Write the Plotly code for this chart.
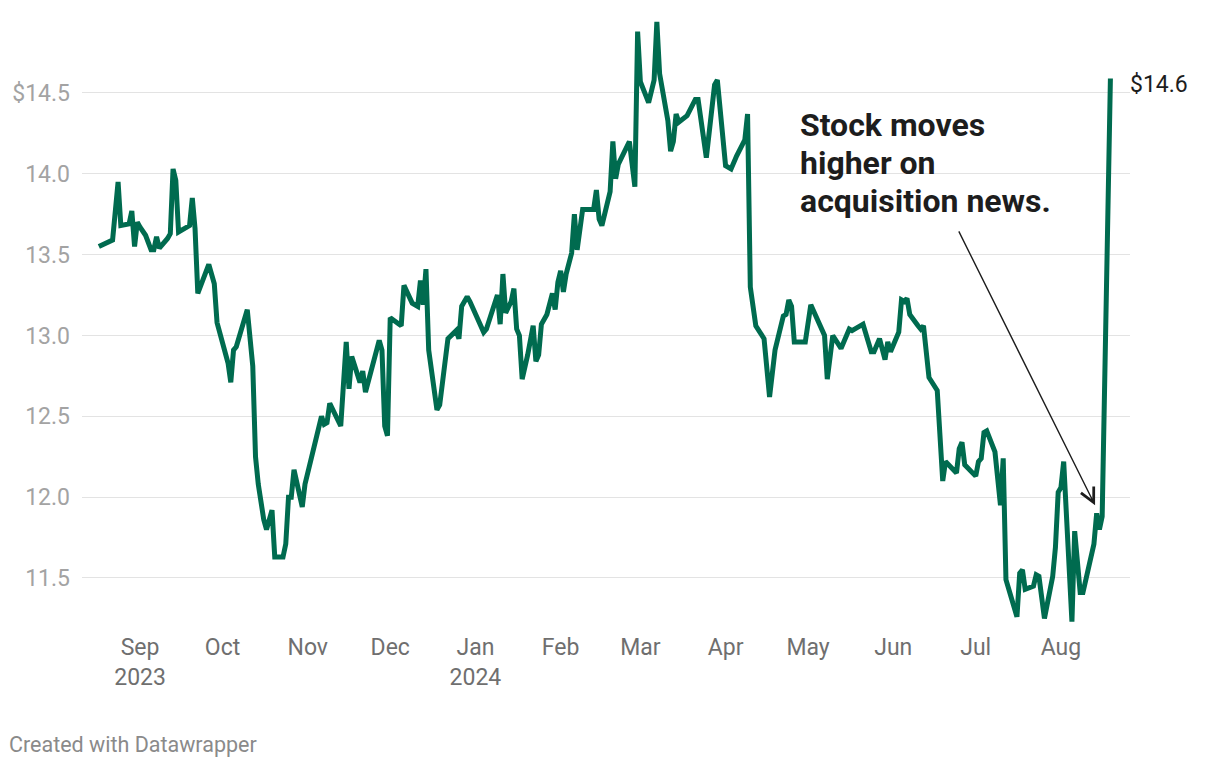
import plotly.graph_objects as go

dates = [
    "2023-08-17", "2023-08-22", "2023-08-24", "2023-08-25", "2023-08-28", "2023-08-29", "2023-08-30", "2023-08-31",
    "2023-09-01", "2023-09-03", "2023-09-05", "2023-09-06", "2023-09-07", "2023-09-08", "2023-09-11", "2023-09-12",
    "2023-09-13", "2023-09-14", "2023-09-15", "2023-09-19", "2023-09-20", "2023-09-21", "2023-09-22", "2023-09-25",
    "2023-09-26", "2023-09-28", "2023-09-29",
    "2023-10-03", "2023-10-04", "2023-10-05", "2023-10-06", "2023-10-10", "2023-10-12", "2023-10-13", "2023-10-14",
    "2023-10-16", "2023-10-17", "2023-10-19", "2023-10-20", "2023-10-23", "2023-10-24", "2023-10-25", "2023-10-26",
    "2023-10-27", "2023-10-30", "2023-10-31",
    "2023-11-06", "2023-11-07", "2023-11-08", "2023-11-09", "2023-11-13", "2023-11-15", "2023-11-16", "2023-11-17",
    "2023-11-20", "2023-11-21", "2023-11-22", "2023-11-27", "2023-11-28", "2023-11-29", "2023-11-30",
    "2023-12-01", "2023-12-05", "2023-12-06", "2023-12-07", "2023-12-09", "2023-12-11", "2023-12-12", "2023-12-13",
    "2023-12-14", "2023-12-15", "2023-12-18", "2023-12-19", "2023-12-22", "2023-12-25", "2023-12-26", "2023-12-27",
    "2023-12-29", "2023-12-30",
    "2024-01-04", "2024-01-05", "2024-01-09", "2024-01-10", "2024-01-11", "2024-01-12", "2024-01-14", "2024-01-15",
    "2024-01-16", "2024-01-17", "2024-01-18", "2024-01-20", "2024-01-22", "2024-01-23", "2024-01-24", "2024-01-25",
    "2024-01-27", "2024-01-29", "2024-01-30", "2024-01-31",
    "2024-02-01", "2024-02-02", "2024-02-03", "2024-02-05", "2024-02-06", "2024-02-07", "2024-02-09", "2024-02-13",
    "2024-02-14", "2024-02-15", "2024-02-16", "2024-02-19", "2024-02-20", "2024-02-21", "2024-02-22", "2024-02-26",
    "2024-02-27", "2024-02-28", "2024-02-29",
    "2024-03-01", "2024-03-04", "2024-03-06", "2024-03-07", "2024-03-08", "2024-03-11", "2024-03-12", "2024-03-13",
    "2024-03-14", "2024-03-15", "2024-03-18", "2024-03-21", "2024-03-22", "2024-03-25", "2024-03-28", "2024-03-29",
    "2024-04-01", "2024-04-03", "2024-04-05", "2024-04-08", "2024-04-09", "2024-04-10", "2024-04-12", "2024-04-15",
    "2024-04-17", "2024-04-19", "2024-04-22", "2024-04-23", "2024-04-24", "2024-04-25", "2024-04-26", "2024-04-30",
    "2024-05-02", "2024-05-07", "2024-05-08", "2024-05-10", "2024-05-13", "2024-05-16", "2024-05-17", "2024-05-21",
    "2024-05-24", "2024-05-25", "2024-05-27", "2024-05-29", "2024-05-30", "2024-05-31",
    "2024-06-03", "2024-06-04", "2024-06-05", "2024-06-06", "2024-06-07", "2024-06-10", "2024-06-11", "2024-06-12",
    "2024-06-14", "2024-06-17", "2024-06-19", "2024-06-20", "2024-06-22", "2024-06-24", "2024-06-25", "2024-06-26",
    "2024-06-27",
    "2024-07-01", "2024-07-02", "2024-07-03", "2024-07-04", "2024-07-05", "2024-07-08", "2024-07-10", "2024-07-11",
    "2024-07-12", "2024-07-16", "2024-07-17", "2024-07-18", "2024-07-19", "2024-07-22", "2024-07-23", "2024-07-24",
    "2024-07-26", "2024-07-29", "2024-07-30", "2024-07-31",
    "2024-08-01", "2024-08-02", "2024-08-05", "2024-08-06", "2024-08-08", "2024-08-09", "2024-08-13", "2024-08-14",
    "2024-08-15", "2024-08-16", "2024-08-19",
]

prices = [
    13.55, 13.59, 13.95, 13.68, 13.69, 13.77, 13.55, 13.70,
    13.67, 13.62, 13.53, 13.53, 13.61, 13.54, 13.60, 13.63,
    14.03, 13.96, 13.64, 13.68, 13.85, 13.66, 13.26, 13.39,
    13.44, 13.32, 13.08,
    12.83, 12.71, 12.91, 12.93, 13.16, 12.81, 12.25, 12.08,
    11.86, 11.80, 11.92, 11.63, 11.63, 11.71, 12.00, 12.00,
    12.17, 11.94, 12.08,
    12.50, 12.45, 12.46, 12.58, 12.44, 12.96, 12.67, 12.87,
    12.71, 12.78, 12.65, 12.97, 12.91, 12.44, 12.38,
    13.11, 13.06, 13.31, 13.27, 13.20, 13.18, 13.34, 13.19,
    13.41, 12.91, 12.54, 12.57, 12.98, 13.03, 12.98, 13.18,
    13.24, 13.21,
    13.02, 13.04, 13.25, 13.07, 13.38, 13.14, 13.21, 13.29,
    13.04, 13.00, 12.73, 12.88, 13.06, 12.84, 12.88, 13.07,
    13.13, 13.26, 13.16, 13.33,
    13.40, 13.27, 13.38, 13.51, 13.75, 13.53, 13.78, 13.78,
    13.90, 13.72, 13.68, 13.89, 14.20, 13.97, 14.06, 14.20,
    14.06, 13.92, 14.88,
    14.57, 14.44, 14.58, 14.94, 14.62, 14.33, 14.14, 14.20,
    14.37, 14.32, 14.36, 14.46, 14.46, 14.10, 14.55, 14.58,
    14.05, 14.03, 14.11, 14.21, 14.37, 13.30, 13.06, 12.98,
    12.62, 12.91, 13.12, 13.13, 13.22, 13.18, 12.96, 12.96,
    13.19, 13.00, 12.73, 13.00, 12.92, 13.04, 13.03, 13.07,
    12.90, 12.90, 12.98, 12.85, 12.96, 12.90,
    13.02, 13.22, 13.21, 13.23, 13.13, 13.06, 13.04, 13.06,
    12.74, 12.66, 12.10, 12.22, 12.18, 12.15, 12.30, 12.34,
    12.20,
    12.13, 12.22, 12.24, 12.40, 12.41, 12.28, 11.95, 12.24,
    11.49, 11.26, 11.53, 11.55, 11.43, 11.45, 11.52, 11.51,
    11.25, 11.51, 11.69, 12.03,
    12.06, 12.22, 11.23, 11.79, 11.41, 11.41, 11.71, 11.90,
    11.80, 11.88, 14.59,
]

month_ticks = ["2023-09-01", "2023-10-01", "2023-11-01", "2023-12-01", "2024-01-01", "2024-02-01",
               "2024-03-01", "2024-04-01", "2024-05-01", "2024-06-01", "2024-07-01", "2024-08-01"]
month_labels = ["Sep<br>2023", "Oct", "Nov", "Dec", "Jan<br>2024", "Feb",
                "Mar", "Apr", "May", "Jun", "Jul", "Aug"]

y_ticks = [11.5, 12.0, 12.5, 13.0, 13.5, 14.0, 14.5]
y_labels = ["11.5", "12.0", "12.5", "13.0", "13.5", "14.0", "$14.5"]

callout_lines = ["Stock moves", "higher on", "acquisition news."]
callout_y = [14.302, 14.067, 13.832]
end_label = "$14.6"
credit = "Created with Datawrapper"

LINE = "#006b4f"
FONT = "Roboto"

fig = go.Figure()
fig.add_trace(go.Scatter(
    x=dates, y=prices, mode="lines",
    line=dict(color=LINE, width=5, shape="linear"),
    hoverinfo="skip",
))

fig.update_layout(
    width=1220, height=768,
    margin=dict(l=82, r=90, t=17, b=142),
    paper_bgcolor="white", plot_bgcolor="white",
    showlegend=False,
    font=dict(family=FONT, size=23, color="#6f6f6f"),
)

fig.update_xaxes(
    type="date",
    range=["2023-08-10 21:00", "2024-08-26 03:00"],
    tickvals=month_ticks, ticktext=month_labels,
    showgrid=False, zeroline=False, showline=False, ticks="",
    tickfont=dict(family=FONT, size=23, color="#6f6f6f"),
    ticklabelstandoff=5,
)
fig.update_yaxes(
    range=[11.203, 14.97],
    tickvals=y_ticks, ticktext=y_labels,
    showgrid=True, gridcolor="#e3e3e3", gridwidth=1,
    zeroline=False, showline=False, ticks="",
    tickfont=dict(family=FONT, size=23, color="#a3a3a3"),
    ticklabelstandoff=11,
)

# end value label
fig.add_annotation(
    x=dates[-1], y=prices[-1], text=end_label, showarrow=False,
    xanchor="left", yanchor="middle", xshift=18, yshift=-6,
    font=dict(family=FONT, size=23, color="#1d1d1d"),
)

# callout text, one annotation per line
for line_text, ly in zip(callout_lines, callout_y):
    fig.add_annotation(
        x="2024-04-28", y=ly, text="<b>" + line_text + "</b>", showarrow=False,
        xanchor="left", yanchor="middle", align="left", xshift=-2,
        font=dict(family=FONT, size=32, color="#1d1d1d"),
    )

# callout arrow
fig.add_annotation(
    x="2024-08-13 10:00", y=11.95, ax="2024-06-24 14:00", ay=13.653,
    xref="x", yref="y", axref="x", ayref="y",
    text="", showarrow=True, arrowhead=5, arrowsize=2.0, arrowwidth=1.4,
    arrowcolor="#1d1d1d", standoff=0,
)

# footer credit
fig.add_annotation(
    x=-0.0715, y=-0.1954, xref="paper", yref="paper", text=credit, showarrow=False,
    xanchor="left", yanchor="middle",
    font=dict(family=FONT, size=21.5, color="#8a8a8a"),
)

fig.write_html("out.html", config={"displayModeBar": False})
